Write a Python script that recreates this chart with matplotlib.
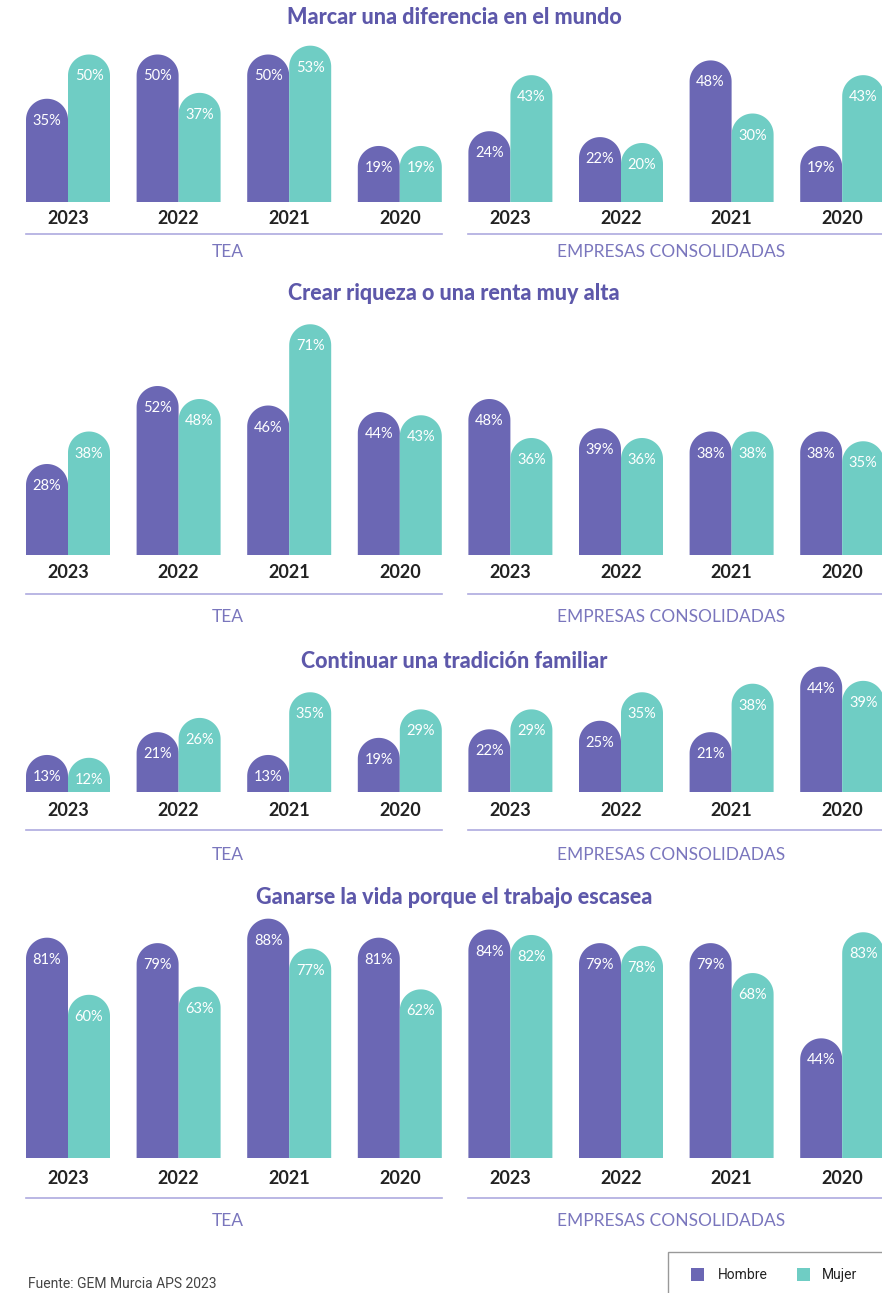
import matplotlib
matplotlib.use('Agg')
import matplotlib.pyplot as plt
from matplotlib.patches import Polygon, Rectangle
import numpy as np

plt.rcParams['font.family'] = ['Lato', 'DejaVu Sans']

years = ['2023', '2022', '2021', '2020']
groups = ['TEA', 'EMPRESAS CONSOLIDADAS']

titles = [
    'Marcar una diferencia en el mundo',
    'Crear riqueza o una renta muy alta',
    'Continuar una tradición familiar',
    'Ganarse la vida porque el trabajo escasea',
]

# hombre / mujer per panel: TEA (2023..2020) followed by EMPRESAS CONSOLIDADAS (2023..2020)
hombre = [
    [35, 50, 50, 19, 24, 22, 48, 19],
    [28, 52, 46, 44, 48, 39, 38, 38],
    [13, 21, 13, 19, 22, 25, 21, 44],
    [81, 79, 88, 81, 84, 79, 79, 44],
]
mujer = [
    [50, 37, 53, 19, 43, 20, 30, 43],
    [38, 48, 71, 43, 36, 36, 38, 35],
    [12, 26, 35, 29, 29, 35, 38, 39],
    [60, 63, 77, 62, 82, 78, 68, 83],
]

C_H = '#6b67b4'
C_M = '#6fcdc4'
C_TITLE = '#5d58aa'
C_GROUP = '#7a76bd'
C_LINE = '#aeaadf'

W, H = 882, 1293
fig = plt.figure(figsize=(W / 100, H / 100), dpi=100)

# layout in pixels: (title y, baseline y, px per %, year y, line y, group label y)
layout = [
    (18, 202, 2.95, 218, 234, 252),
    (293, 555, 3.25, 573, 594, 617),
    (662, 792, 2.85, 810, 830, 855),
    (898, 1158, 2.72, 1178, 1198, 1221),
]

centers = 68 + 110.6 * np.arange(8)
bw = 42
r = bw / 2


def rounded_bar(ax, x0, value, scale, color):
    ry = r / scale
    top = value - ry
    theta = np.linspace(0, np.pi, 40)
    xs = list(x0 + r + r * np.cos(theta))
    ys = list(top + ry * np.sin(theta))
    pts = [(x0 + bw, 0), (x0 + bw, top)] + list(zip(xs, ys)) + [(x0, top), (x0, 0)]
    ax.add_patch(Polygon(pts, closed=True, facecolor=color, edgecolor='none'))


# overlay axes in pixel coordinates for text and rules
ov = fig.add_axes([0, 0, 1, 1])
ov.set_xlim(0, W)
ov.set_ylim(H, 0)
ov.axis('off')

for p in range(4):
    ty, base, scale, yy, ly, gy = layout[p]
    ax = fig.add_axes([0, 1 - base / H, 1, 260 / H])
    ax.set_xlim(0, W)
    ax.set_ylim(0, 260 / scale)
    ax.axis('off')
    for i in range(8):
        c = centers[i]
        for x0, v, col in [(c - bw, hombre[p][i], C_H), (c, mujer[p][i], C_M)]:
            rounded_bar(ax, x0, v, scale, col)
            ax.text(x0 + r, v - 22 / scale, f'{v}%', color='white', fontsize=10.5,
                    ha='center', va='center', fontweight='normal')
        ov.text(c, yy, years[i % 4], ha='center', va='center', fontsize=13,
                fontweight='bold', color='#222222')

    ov.text(454, ty, titles[p], ha='center', va='center', fontsize=15.5,
            fontweight='black', color=C_TITLE)
    ov.plot([centers[0] - bw, centers[3] + bw], [ly, ly], color=C_LINE, lw=1.2)
    ov.plot([centers[4] - bw, W], [ly, ly], color=C_LINE, lw=1.2)
    ov.text(228, gy, groups[0], ha='center', va='center',
            fontsize=12.5, color=C_GROUP)
    ov.text(671, gy, groups[1], ha='center', va='center', fontsize=12.5, color=C_GROUP)

# legend box
ov.add_patch(Rectangle((668, 1252), 230, 60, facecolor='white', edgecolor='#999999', lw=1))
ov.add_patch(Rectangle((691, 1268), 13, 13, facecolor=C_H, edgecolor='none'))
ov.text(718, 1275, 'Hombre', ha='left', va='center', fontsize=10,
        family=['Roboto', 'DejaVu Sans'], color='#222222')
ov.add_patch(Rectangle((797, 1268), 13, 13, facecolor=C_M, edgecolor='none'))
ov.text(822, 1275, 'Mujer', ha='left', va='center', fontsize=10,
        family=['Roboto', 'DejaVu Sans'], color='#222222')

ov.text(28, 1284, 'Fuente: GEM Murcia APS 2023', ha='left', va='center', fontsize=10,
        family=['Roboto', 'DejaVu Sans'], color='#444444')

fig.savefig('out.png', dpi=100)
